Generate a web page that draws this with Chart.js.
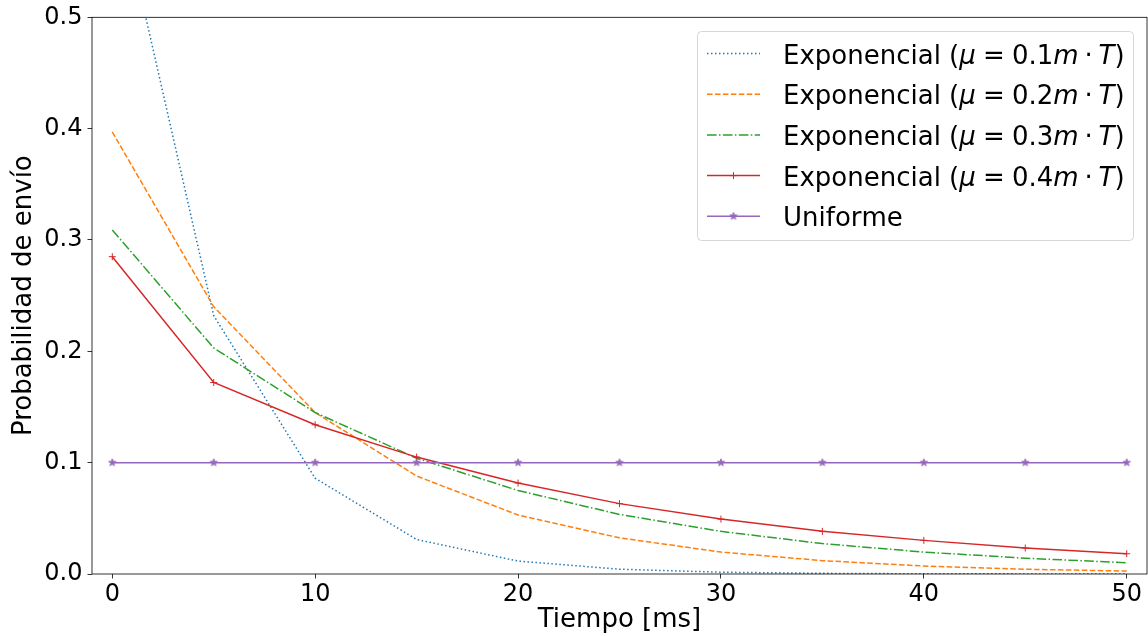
<!DOCTYPE html>
<html lang="es">
<head>
<meta charset="UTF-8">
<title>Probabilidad de envío</title>
<style>
  html, body { margin: 0; padding: 0; background: #fff; }
  #grafico { display: block; }
</style>
</head>
<body>
<canvas id="grafico" width="1148" height="636"></canvas>
<script src="https://cdn.jsdelivr.net/npm/chart.js"></script>
<script>
// tiempo de envío (ms)
const tiempo = [0, 5, 10, 15, 20, 25, 30, 35, 40, 45, 50];

// probabilidad de envío para cada distribución
const expMu01 = [0.632, 0.232, 0.086, 0.031, 0.0116, 0.0043, 0.0016, 0.0006, 0.0002, 0.0001, 0.00003];
const expMu02 = [0.397, 0.240, 0.145, 0.088, 0.053, 0.0325, 0.0197, 0.0120, 0.0072, 0.0043, 0.0026];
const expMu03 = [0.309, 0.203, 0.145, 0.104, 0.075, 0.0535, 0.0383, 0.0273, 0.0197, 0.0142, 0.0101];
const expMu04 = [0.285, 0.172, 0.134, 0.105, 0.0817, 0.0632, 0.0493, 0.0383, 0.0302, 0.0233, 0.0182];
const uniforme = [0.1, 0.1, 0.1, 0.1, 0.1, 0.1, 0.1, 0.1, 0.1, 0.1, 0.1];

const etiquetas = [
  'Exponencial (μ = 0.1m · T)',
  'Exponencial (μ = 0.2m · T)',
  'Exponencial (μ = 0.3m · T)',
  'Exponencial (μ = 0.4m · T)',
  'Uniforme'
];

const ticksX = [0, 10, 20, 30, 40, 50];
const ticksY = [0.0, 0.1, 0.2, 0.3, 0.4, 0.5];

const FUENTE = '"DejaVu Sans", sans-serif';

// marcador de estrella relleno
function estrella(color, r) {
  const c = document.createElement('canvas');
  const s = Math.ceil(r * 2 + 2);
  c.width = c.height = s;
  const g = c.getContext('2d');
  g.beginPath();
  for (let k = 0; k < 10; k++) {
    const rad = k % 2 ? r * 0.4 : r;
    const a = -Math.PI / 2 + k * Math.PI / 5;
    const px = s / 2 + rad * Math.cos(a), py = s / 2 + rad * Math.sin(a);
    if (k) g.lineTo(px, py); else g.moveTo(px, py);
  }
  g.closePath();
  g.fillStyle = color;
  g.fill();
  g.strokeStyle = color;
  g.lineWidth = 1;
  g.stroke();
  return c;
}

const puntos = arr => tiempo.map((t, i) => ({ x: t, y: arr[i] }));

const serie = (label, data, color, dash, extra) => Object.assign({
  label: label,
  data: puntos(data),
  borderColor: color,
  backgroundColor: color,
  borderWidth: 1.5,
  borderDash: dash,
  pointRadius: 0,
  fill: false,
  tension: 0
}, extra || {});

const datasets = [
  serie(etiquetas[0], expMu01, '#1f77b4', [1.5, 2.5], { order: 4 }),
  serie(etiquetas[1], expMu02, '#ff7f0e', [5.55, 2.4], { order: 3 }),
  serie(etiquetas[2], expMu03, '#2ca02c', [9.6, 2.4, 1.5, 2.4], { order: 2 }),
  serie(etiquetas[3], expMu04, '#d62728', [], {
    order: 1, pointStyle: 'cross', pointRadius: 3.5, pointBorderWidth: 1
  }),
  serie(etiquetas[4], uniforme, '#9467bd', [], {
    order: 0, pointStyle: estrella('#9467bd', 3.8), pointRadius: 4
  })
];

// dibuja una etiqueta con las variables en cursiva (estilo mathtext)
function textoMat(ctx, texto, x, y) {
  let dentro = false;
  for (const ch of texto) {
    if (ch === '(') dentro = true;
    if (dentro && ch === ' ') continue;
    const cursiva = dentro && 'μmT'.includes(ch);
    let hueco = 0;
    if (dentro && ch === '=') hueco = 7.2;
    if (dentro && ch === '·') hueco = 5.8;
    ctx.font = (cursiva ? 'oblique ' : '') + '26px ' + FUENTE;
    x += hueco;
    ctx.fillText(ch, x, y);
    x += ctx.measureText(ch).width + hueco;
    if (ch === ')') dentro = false;
  }
}

const leyenda = {
  id: 'leyenda',
  afterDraw(chart) {
    const ctx = chart.ctx;
    ctx.save();
    ctx.beginPath();
    ctx.roundRect(697.5, 31.5, 436, 209, 4);
    ctx.fillStyle = 'rgba(255,255,255,0.8)';
    ctx.fill();
    ctx.strokeStyle = '#d6d6d6';
    ctx.lineWidth = 1;
    ctx.stroke();

    chart.data.datasets.forEach((ds, i) => {
      const y = 53.5 + i * 40.7;
      ctx.strokeStyle = ds.borderColor;
      ctx.lineWidth = ds.borderWidth;
      ctx.setLineDash(ds.borderDash);
      ctx.beginPath();
      ctx.moveTo(707, y);
      ctx.lineTo(760, y);
      ctx.stroke();
      ctx.setLineDash([]);
      const cx = 733.5;
      if (ds.pointStyle === 'cross') {
        const r = ds.pointRadius;
        ctx.lineWidth = 1;
        ctx.beginPath();
        ctx.moveTo(cx - r, y); ctx.lineTo(cx + r, y);
        ctx.moveTo(cx, y - r); ctx.lineTo(cx, y + r);
        ctx.stroke();
      } else if (ds.pointStyle && typeof ds.pointStyle === 'object') {
        const img = ds.pointStyle;
        ctx.drawImage(img, cx - img.width / 2, y - img.height / 2);
      }
      ctx.fillStyle = '#000';
      ctx.textBaseline = 'alphabetic';
      ctx.textAlign = 'left';
      textoMat(ctx, ds.label, 783, y + 10);
    });
    ctx.restore();
  }
};

// marco completo del área de trazado
const marco = {
  id: 'marco',
  afterDatasetsDraw(chart) {
    const a = chart.chartArea;
    const ctx = chart.ctx;
    ctx.save();
    ctx.strokeStyle = '#000';
    ctx.lineWidth = 0.8;
    ctx.strokeRect(a.left, a.top, a.right - a.left, a.bottom - a.top);
    ctx.restore();
  }
};

new Chart(document.getElementById('grafico'), {
  type: 'line',
  data: { datasets: datasets },
  options: {
    responsive: false,
    animation: false,
    devicePixelRatio: 1,
    events: [],
    layout: { autoPadding: false, padding: { top: 17.3, right: 1, left: 0, bottom: 0 } },
    plugins: {
      legend: { display: false },
      tooltip: { enabled: false }
    },
    scales: {
      x: {
        type: 'linear',
        min: -1,
        max: 51,
        afterBuildTicks: s => { s.ticks = ticksX.map(v => ({ value: v })); },
        afterFit: s => { s.height = 62; s.paddingLeft = 0; s.paddingRight = 0; },
        border: { display: false },
        grid: { drawOnChartArea: false, drawTicks: true, tickLength: 4.5, color: '#000', lineWidth: 0.8 },
        ticks: {
          color: '#000',
          font: { family: FUENTE, size: 24, lineHeight: 1 },
          padding: 4,
          maxRotation: 0,
          callback: v => String(v)
        },
        title: {
          display: true,
          text: 'Tiempo [ms]',
          color: '#000',
          font: { family: FUENTE, size: 26, lineHeight: 1.2 },
          padding: { top: 0, bottom: 0.5 }
        }
      },
      y: {
        type: 'linear',
        min: 0,
        max: 0.5,
        afterBuildTicks: s => { s.ticks = ticksY.map(v => ({ value: v })); },
        afterFit: s => { s.width = 92; s.paddingTop = 0; s.paddingBottom = 0; },
        border: { display: false },
        grid: { drawOnChartArea: false, drawTicks: true, tickLength: 4.5, color: '#000', lineWidth: 0.8 },
        ticks: {
          color: '#000',
          font: { family: FUENTE, size: 24, lineHeight: 1 },
          padding: 5,
          callback: v => v.toFixed(1)
        },
        title: {
          display: true,
          text: 'Probabilidad de envío',
          color: '#000',
          font: { family: FUENTE, size: 26, lineHeight: 1.2 },
          padding: { top: 8.5, bottom: 0 }
        }
      }
    }
  },
  plugins: [marco, leyenda]
});
</script>
</body>
</html>
